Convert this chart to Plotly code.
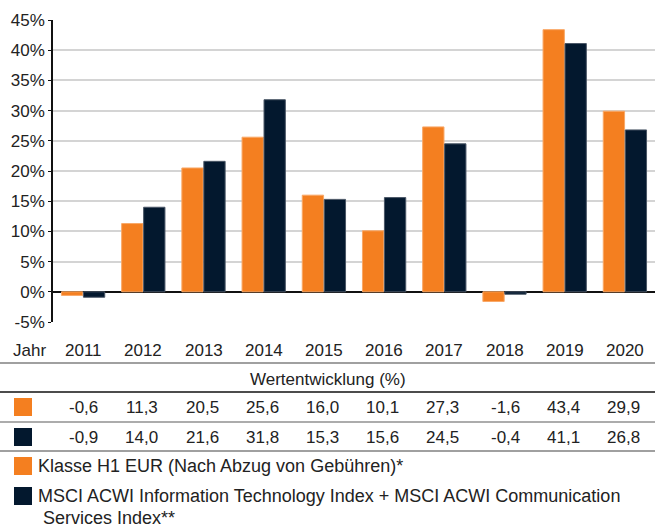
import plotly.graph_objects as go

years = ["2011", "2012", "2013", "2014", "2015", "2016", "2017", "2018", "2019", "2020"]
fund = [-0.6, 11.3, 20.5, 25.6, 16.0, 10.1, 27.3, -1.6, 43.4, 29.9]
index = [-0.9, 14.0, 21.6, 31.8, 15.3, 15.6, 24.5, -0.4, 41.1, 26.8]
y_ticks = [-5, 0, 5, 10, 15, 20, 25, 30, 35, 40, 45]
fund_name = "Klasse H1 EUR (Nach Abzug von Gebühren)*"
index_name_1 = "MSCI ACWI Information Technology Index + MSCI ACWI Communication"
index_name_2 = "Services Index**"
table_title = "Wertentwicklung (%)"
year_label = "Jahr"

ORANGE = "#F47F20"
NAVY = "#03182E"
TXT = "#222222"
FONT = "Liberation Sans, Arial, sans-serif"

W, H = 655, 528
ML, MR, MT, MB = 53, 0, 20, 206
PW = W - ML - MR
PH = H - MT - MB


def px(X):
    return (X - ML) / PW


def py(Y):
    return (H - MB - Y) / PH


def fmt(v):
    return f"{v:.1f}".replace(".", ",")


fig = go.Figure()
fig.add_bar(x=years, y=fund, name=fund_name, marker=dict(color=ORANGE, line=dict(color="#F9A867", width=1)))
fig.add_bar(x=years, y=index, name=index_name_1 + " " + index_name_2,
            marker=dict(color=NAVY, line=dict(color="#4A5666", width=1)))

shapes = []
annotations = []

# year row
annotations.append(dict(text=year_label, xref="paper", yref="paper", x=px(11), y=py(350),
                        xanchor="left", yanchor="middle", showarrow=False, font=dict(size=17, color=TXT)))
for i, yr in enumerate(years):
    annotations.append(dict(text=yr, xref="x", yref="paper", x=i, y=py(350),
                            xanchor="center", yanchor="middle", showarrow=False,
                            font=dict(size=17, color=TXT)))

annotations.append(dict(text=table_title, xref="paper", yref="paper", x=px(W / 2), y=py(379),
                        xanchor="center", yanchor="middle", showarrow=False, font=dict(size=17, color=TXT)))

for row_vals, ymid in ((fund, 408), (index, 437)):
    for i, v in enumerate(row_vals):
        annotations.append(dict(text=fmt(v), xref="x", yref="paper", x=i, y=py(ymid),
                                xanchor="right", yanchor="middle", xshift=17, showarrow=False,
                                font=dict(size=17, color=TXT)))

# table lines
for Y, c in ((363, "#808080"), (392, "#111111"), (422, "#909090"), (451, "#808080")):
    shapes.append(dict(type="line", xref="paper", yref="paper", x0=px(0), x1=1, y0=py(Y), y1=py(Y),
                       line=dict(color=c, width=1.5)))

# table row squares
for (y0, y1), c in (((398, 416), ORANGE), ((428, 446), NAVY)):
    shapes.append(dict(type="rect", xref="paper", yref="paper", x0=px(14), x1=px(32), y0=py(y1), y1=py(y0),
                       fillcolor=c, line=dict(width=0)))

# legend
for (y0, y1), c in (((457, 475), ORANGE), ((487, 505), NAVY)):
    shapes.append(dict(type="rect", xref="paper", yref="paper", x0=px(14), x1=px(32), y0=py(y1), y1=py(y0),
                       fillcolor=c, line=dict(width=0)))
for text, X, Y in ((fund_name, 36, 466), (index_name_1, 36, 496), (index_name_2, 41, 518)):
    annotations.append(dict(text=text, xref="paper", yref="paper", x=px(X), y=py(Y),
                            xanchor="left", yanchor="middle", showarrow=False, font=dict(size=18, color=TXT)))

fig.update_layout(
    width=W, height=H,
    margin=dict(l=ML, r=MR, t=MT, b=MB, pad=0),
    paper_bgcolor="white", plot_bgcolor="white",
    font=dict(family=FONT, color=TXT),
    barmode="group", bargap=0.27, bargroupgap=0.03,
    showlegend=False,
    shapes=shapes, annotations=annotations,
    xaxis=dict(type="category", range=[-0.5, 9.5], showticklabels=False, showgrid=False,
               zeroline=False, showline=False, ticks=""),
    yaxis=dict(range=[-5, 45], tickvals=y_ticks, ticktext=[f"{t}%" for t in y_ticks],
               showgrid=True, gridcolor="#d4d4d4", gridwidth=1.5,
               zeroline=True, zerolinecolor="#111111", zerolinewidth=2,
               showline=True, linecolor="#111111", linewidth=1.5,
               ticks="outside", ticklen=3, tickcolor="#111111",
               tickfont=dict(size=17, color=TXT)),
)

fig.write_html("out.html", config={"displayModeBar": False},
               post_script="document.body.style.margin='0';document.body.style.overflow='hidden';")
